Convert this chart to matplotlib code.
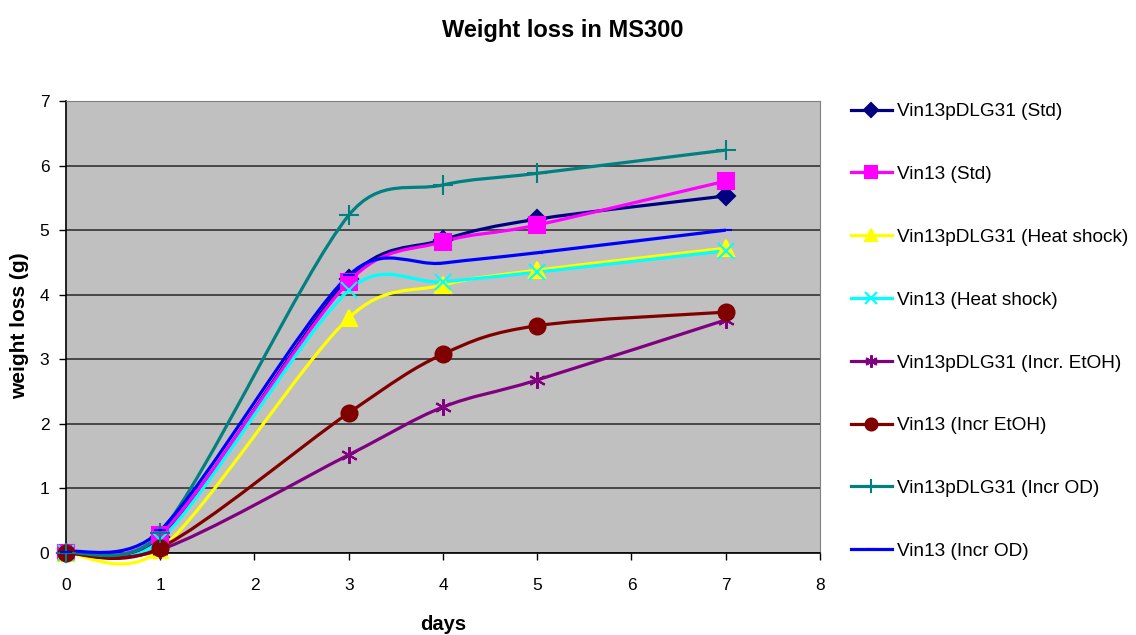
import numpy as np
import matplotlib
matplotlib.use("Agg")
import matplotlib.pyplot as plt
from matplotlib.path import Path
from matplotlib.patches import PathPatch
from matplotlib.lines import Line2D

plt.rcParams['font.family'] = ['Liberation Sans', 'DejaVu Sans']

days = [0, 1, 3, 4, 5, 7]

labels = [
    "Vin13pDLG31 (Std)",
    "Vin13 (Std)",
    "Vin13pDLG31 (Heat shock)",
    "Vin13 (Heat shock)",
    "Vin13pDLG31 (Incr. EtOH)",
    "Vin13 (Incr EtOH)",
    "Vin13pDLG31 (Incr OD)",
    "Vin13 (Incr OD)",
]

std_dlg = [0, 0.25, 4.25, 4.85, 5.17, 5.53]
std_vin = [0, 0.28, 4.20, 4.82, 5.08, 5.76]
heat_dlg = [0, 0.05, 3.64, 4.15, 4.38, 4.72]
heat_vin = [0, 0.20, 4.07, 4.20, 4.35, 4.68]
etoh_dlg = [0, 0.05, 1.52, 2.26, 2.68, 3.61]
etoh_vin = [0, 0.08, 2.17, 3.08, 3.52, 3.73]
od_dlg = [0, 0.31, 5.23, 5.70, 5.88, 6.24]
od_vin = [0.02, 0.35, 4.30, 4.49, 4.65, 5.00]

series = [std_dlg, std_vin, heat_dlg, heat_vin, etoh_dlg, etoh_vin, od_dlg, od_vin]
colors = ['#000080', '#FF00FF', '#FFFF00', '#00FFFF', '#800080', '#800000', '#008080', '#0000FF']
markers = ['D', 's', '^', 'x', (6, 2, 0), 'o', '+', '_']
msizes = [9.5, 11, 11, 11, 12, 11.5, 14, 9]


def smooth_path(xs, ys, sx, sy):
    # Excel-like smoothed line: cubic bezier, control points from neighbours (1/6),
    # clamped to half of the segment length in screen units
    p = np.column_stack([np.asarray(xs, float) * sx, np.asarray(ys, float) * sy])
    n = len(p)
    verts = [p[0]]
    codes = [Path.MOVETO]
    for i in range(n - 1):
        p0 = p[i - 1] if i > 0 else p[i]
        p1 = p[i]
        p2 = p[i + 1]
        p3 = p[i + 2] if i + 2 < n else p[i + 1]
        half = np.hypot(*(p2 - p1)) / 2
        d1 = p2 - p0
        d2 = p3 - p1
        o1 = d1 / 6
        o2 = d2 / 6
        if np.hypot(*o1) > half:
            o1 = d1 * half / np.hypot(*d1)
        if np.hypot(*o2) > half:
            o2 = d2 * half / np.hypot(*d2)
        verts += [p1 + o1, p2 - o2, p2]
        codes += [Path.CURVE4] * 3
    v = np.array(verts)
    v[:, 0] /= sx
    v[:, 1] /= sy
    return Path(v, codes)


fig = plt.figure(figsize=(11.36, 6.35), dpi=100)
ax = fig.add_axes([66 / 1136, 82 / 635, 754 / 1136, 452 / 635])
ax.set_facecolor('#C0C0C0')

ax.set_xlim(0, 8)
ax.set_ylim(0, 7)
sx = 754 / 8
sy = 452 / 7

handles = []
for ys, c, m, ms, lab in zip(series, colors, markers, msizes, labels):
    path = smooth_path(days, ys, sx, sy)
    patch = PathPatch(path, facecolor='none', edgecolor=c, lw=2.3, zorder=3, clip_on=False)
    ax.add_patch(patch)
    ax.plot(days, ys, linestyle='none', marker=m, markersize=ms, color=c,
            markeredgecolor=c, markeredgewidth=1.5, zorder=4, clip_on=False)
    handles.append(Line2D([], [], color=c, lw=2.3, marker=m, markersize=ms * 0.75,
                          markeredgecolor=c, markeredgewidth=1.5, label=lab))

ax.set_xticks(range(0, 9))
ax.set_yticks(range(0, 8))
ax.yaxis.grid(True, color='#333333', lw=1.2)
ax.set_axisbelow(True)
ax.tick_params(labelsize=12.5, length=5, width=1, direction='out', colors='black')
ax.tick_params(axis='x', pad=13)
ax.tick_params(axis='y', pad=7)
for s in ['top', 'right']:
    ax.spines[s].set_color('#808080')
for s in ['left', 'bottom']:
    ax.spines[s].set_color('black')
    ax.spines[s].set_linewidth(1.2)

fig.text(443 / 1136, 1 - 625 / 635, 'days', fontsize=14.5, fontweight='bold',
         ha='center', va='center')
fig.text(20 / 1136, 1 - 326 / 635, 'weight loss (g)', fontsize=15, fontweight='bold',
         ha='center', va='center', rotation=90)

fig.text(563 / 1136, 1 - 30 / 635, 'Weight loss in MS300', fontsize=17,
         fontweight='bold', ha='center', va='center')

fig.legend(handles=handles, loc='upper left', bbox_to_anchor=(851 / 1136, 1 - 103 / 635),
           frameon=False, fontsize=13.7, handlelength=2.15, handletextpad=0.27,
           labelspacing=2.39, borderpad=0, borderaxespad=0)

fig.savefig('out.png', dpi=100)
